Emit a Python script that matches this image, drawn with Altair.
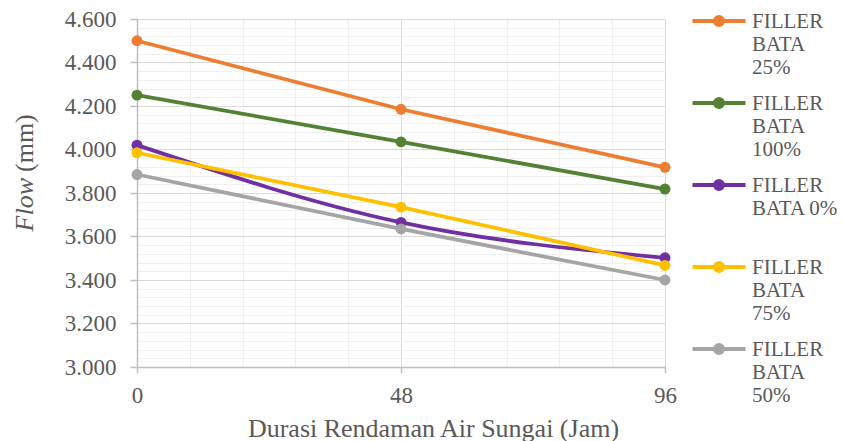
import altair as alt
import pandas as pd
import numpy as np

# Soaking duration (hours) and Flow (mm) per filler content
jam = [0, 48, 96]
series = ["FILLER BATA 25%", "FILLER BATA 100%", "FILLER BATA 0%",
          "FILLER BATA 75%", "FILLER BATA 50%"]
flow_25 = [4.500, 4.185, 3.918]
flow_100 = [4.250, 4.035, 3.818]
flow_0 = [4.020, 3.665, 3.502]
flow_75 = [3.985, 3.735, 3.467]
flow_50 = [3.885, 3.635, 3.400]
colors = ["#ED7D31", "#548235", "#7030A0", "#FFC000", "#A5A5A5"]
smooth = [False, False, True, False, False]

x_title = "Durasi Rendaman Air Sungai (Jam)"
y_title_italic = "Flow"
y_title_rest = "(mm)"

values = [flow_25, flow_100, flow_0, flow_75, flow_50]
rows = []
for name, vals in zip(series, values):
    for j, v in zip(jam, vals):
        rows.append({"jam": j, "flow": v, "seri": name})
df = pd.DataFrame(rows)

FONT = "Liberation Serif, Times New Roman, serif"
TXT = "#595959"
W, H = 528, 348

x_major = jam
y_major = [round(v, 1) for v in np.arange(3.0, 4.61, 0.2)]
x_minor = [round(v, 2) for v in np.arange(0, 96.01, 9.6)]
y_minor = [round(v, 2) for v in np.arange(3.0, 4.601, 0.04)]

x_scale = alt.Scale(domain=[0, 96], nice=False, zero=False)
y_scale = alt.Scale(domain=[3.0, 4.6], nice=False, zero=False)

# legend glyph: a line with a dot, dropped to sit beside the first label line
LEGEND_GLYPH = (
    "M-2.65,1L2.65,1"
    "M-0.4,1A0.4,0.4 0 1 0 0.4,1A0.4,0.4 0 1 0 -0.4,1"
    "M-0.2,1A0.2,0.2 0 1 0 0.2,1A0.2,0.2 0 1 0 -0.2,1"
)

color = alt.Color(
    "seri:N",
    scale=alt.Scale(domain=series, range=colors),
    legend=alt.Legend(
        title=None,
        orient="none",
        legendX=570,
        legendY=-20,
        padding=0,
        symbolType=LEGEND_GLYPH,
        symbolSize=400,
        symbolStrokeWidth=4,
        symbolOpacity=1,
        labelFont=FONT,
        labelFontSize=21,
        labelColor=TXT,
        labelOffset=21,
        labelBaseline="top",
        labelLimit=200,
        gridAlign="all",
        rowPadding=3,
        labelExpr="datum.label == 'FILLER BATA 0%' ? ['FILLER', 'BATA 0%'] : split(datum.label, ' ')",
    ),
)

x_main = alt.X(
    "jam:Q", scale=x_scale,
    axis=alt.Axis(
        values=x_major, orient="bottom", grid=True, gridColor="#D9D9D9", gridWidth=1,
        domainColor="#BFBFBF", domainWidth=1.5, tickColor="#BFBFBF", tickSize=6,
        tickWidth=1.5, labelFont=FONT, labelFontSize=23, labelColor=TXT,
        labelPadding=11, title=x_title, titleFont=FONT, titleFontSize=26,
        titleFontWeight="normal", titleColor=TXT, titleX=296, titleY=69,
        titleBaseline="alphabetic", labelFlush=False,
    ),
)
y_main = alt.Y(
    "flow:Q", scale=y_scale,
    axis=alt.Axis(
        values=y_major, orient="left", format=".3f", grid=True, gridColor="#D9D9D9",
        gridWidth=1, domainColor="#BFBFBF", domainWidth=1.5, tickColor="#BFBFBF",
        tickSize=7, tickWidth=1.5, labelFont=FONT, labelFontSize=23, labelColor=TXT,
        labelPadding=14, title=None,
    ),
)

# light minor gridlines underneath
minor = alt.Chart(df).mark_point(opacity=0).encode(
    x=alt.X("jam:Q", scale=x_scale, axis=alt.Axis(
        values=x_minor, orient="bottom", grid=True, gridColor="#F0F0F0", gridWidth=1,
        domain=False, ticks=False, labels=False, title=None)),
    y=alt.Y("flow:Q", scale=y_scale, axis=alt.Axis(
        values=y_minor, orient="left", grid=True, gridColor="#F0F0F0", gridWidth=1,
        domain=False, ticks=False, labels=False, title=None)),
)

layers = []
for name, sm in zip(series, smooth):
    layers.append(
        alt.Chart(df).transform_filter(alt.datum.seri == name).mark_line(
            strokeWidth=3.75,
            interpolate="monotone" if sm else "linear",
            point=alt.OverlayMarkDef(filled=True, size=120, opacity=1),
        ).encode(x=x_main, y=y_main, color=color)
    )
data_layers = alt.layer(*layers)

t_italic = alt.Chart(pd.DataFrame({"t": [y_title_italic]})).mark_text(
    font=FONT, fontSize=26, fontStyle="italic", color=TXT, angle=270,
    align="right", baseline="middle",
).encode(text="t:N", x=alt.value(-112), y=alt.value(159))
t_rest = alt.Chart(pd.DataFrame({"t": [y_title_rest]})).mark_text(
    font=FONT, fontSize=26, color=TXT, angle=270,
    align="left", baseline="middle",
).encode(text="t:N", x=alt.value(-112), y=alt.value(153))

chart = alt.layer(minor, data_layers, t_italic, t_rest).resolve_axis(
    x="independent", y="independent"
).properties(
    width=W, height=H,
    autosize=alt.AutoSizeParams(type="none"),
    padding={"left": 137, "top": 19, "right": 178, "bottom": 74},
).configure_view(stroke=None).configure(background="white")

chart.save("out.html", embed_options={"renderer": "svg", "actions": False})
